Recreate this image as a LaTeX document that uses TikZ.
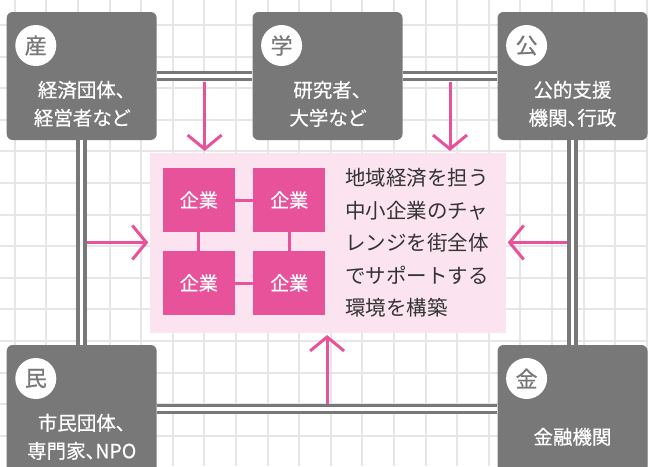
\documentclass[tikz,border=0pt]{standalone}
\usepackage{fontspec}
\setmainfont{Noto Sans CJK JP}
\newfontfamily\propfont{Noto Sans CJK JP}[RawFeature=+palt,FakeBold=0.5]
\newfontfamily\badgefont{Noto Sans CJK JP}[FakeBold=0.6]
\usetikzlibrary{arrows.meta,calc,positioning}
\definecolor{actorgray}{HTML}{787878}
\definecolor{gridgray}{HTML}{E6E6E6}
\definecolor{kigyopink}{HTML}{E8529A}
\definecolor{panelpink}{HTML}{FBE4EF}
\definecolor{msgtext}{HTML}{333333}
\tikzset{
  actorbox/.style={fill=actorgray,rounded corners=6pt,minimum width=150pt,minimum height=128pt,inner sep=0},
  badge/.style={circle,fill=white,minimum size=41pt,inner sep=0,text=actorgray,font=\badgefont\fontsize{22}{22}\selectfont},
  actorlabel/.style={text=white,align=center,font=\propfont\fontsize{19.5}{28}\selectfont},
  kigyo/.style={fill=kigyopink,minimum width=72pt,minimum height=63.5pt,inner sep=0,text=white,font=\propfont\fontsize{19}{19}\selectfont},
  link/.style={draw=actorgray,line width=3.6pt,double=white,double distance=3.4pt},
  push/.style={draw=kigyopink,line width=3pt,-{Straight Barb[length=14pt,width=34pt]},shorten <=5.5pt,shorten >=1.5pt},
}
\newcommand{\actor}[4]{%
  \node[actorbox] (#1) at (#2) {};
  \node[badge] (#1-badge) at ($(#1.north west)+(29.3,33.7)$) {#3};
  \node[actorlabel] (#1-label) at ($(#1.north)+(0,92)$) {#4};}

\begin{document}
\begin{tikzpicture}[x=1pt,y=-1pt]
  \useasboundingbox (0,0) rectangle (648,466);
  \clip (0,0) rectangle (648,466);
  \fill[white] (0,0) rectangle (648,466);
  % background grid
  \foreach \k in {0,...,20} {
    \draw[gridgray,line width=2pt] (14.7+31.6*\k,0) -- ++(0,466);
  }
  \foreach \k in {0,...,13} {
    \draw[gridgray,line width=2pt] (0,25+31.6*\k) -- ++(648,0);
  }
  % actors
  \actor{san}{81.7,76}{産}{経済団体、\\経営者など}
  \actor{gaku}{327.5,76}{学}{研究者、\\大学など}
  \actor{kou}{572.5,76}{公}{公的支援\\機関、行政}
  \actor{min}{81.7,409}{民}{市民団体、\\専門家、NPO}
  \actor{kin}{572.5,409}{金}{金融機関}
  % double links
  \draw[link] (san.east) -- (gaku.west);
  \draw[link] (gaku.east) -- (kou.west);
  \draw[link] (san.south) -- (min.north);
  \draw[link] (kou.south) -- (kin.north);
  \draw[link] (min.east) -- (kin.west);
  % center panel
  \node[fill=panelpink,minimum width=356pt,minimum height=180.6pt,inner sep=0] (panel) at (328,243) {};
  \node[kigyo] (kigyo1) at (198.8,200) {企業};
  \node[kigyo] (kigyo2) at (289.2,200) {企業};
  \node[kigyo] (kigyo3) at (198.8,283) {企業};
  \node[kigyo] (kigyo4) at (289.2,283) {企業};
  \draw[kigyopink,line width=3pt] (kigyo1) -- (kigyo2) (kigyo3) -- (kigyo4) (kigyo1) -- (kigyo3) (kigyo2) -- (kigyo4);
  \node[anchor=west,align=left,inner sep=0,text=msgtext,font=\fontsize{20.5}{32.5}\selectfont] (msg) at (345,243) {地域経済を担う\\中小企業のチャ\\レンジを街全体\\でサポートする\\環境を構築};
  % arrows into the panel
  \coordinate (linktop1) at ($(san.east)!.5!(gaku.west)$);
  \coordinate (linktop2) at ($(gaku.east)!.5!(kou.west)$);
  \coordinate (linkleft) at ($(san.south)!.5!(min.north)$);
  \coordinate (linkright) at ($(kou.south)!.5!(kin.north)$);
  \coordinate (linkbottom) at ($(min.east)!.5!(kin.west)$);
  \draw[push] (linktop1) -- (linktop1 |- panel.north);
  \draw[push] (linktop2) -- (linktop2 |- panel.north);
  \draw[push] (linkleft) -- (linkleft -| panel.west);
  \draw[push] (linkright) -- (linkright -| panel.east);
  \draw[push] (linkbottom) -- (linkbottom |- panel.south);
\end{tikzpicture}
\end{document}
